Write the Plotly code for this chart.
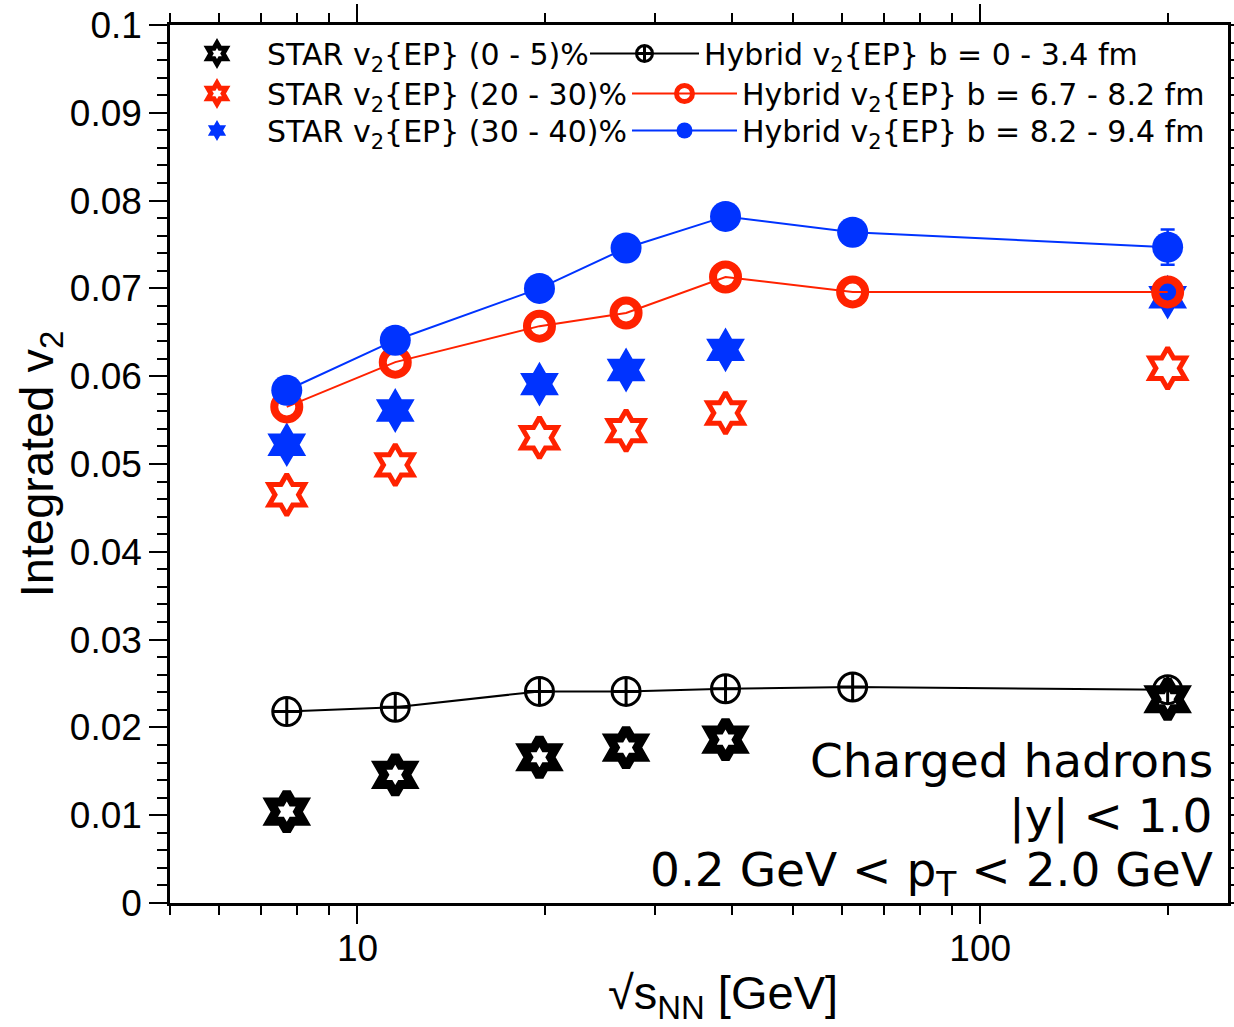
import math
import plotly.graph_objects as go

# Collision energies (GeV)
energy_star = [7.7, 11.5, 19.6, 27, 39, 200]
energy_hybrid = [7.7, 11.5, 19.6, 27, 39, 62.4, 200]

# STAR measurements of integrated v2{EP}
star_0_5 = [0.0104, 0.0146, 0.0166, 0.0177, 0.0186, 0.0232]
star_20_30 = [0.0465, 0.0499, 0.0530, 0.0538, 0.0558, 0.0609]
star_30_40 = [0.0522, 0.0561, 0.0591, 0.0607, 0.0630, 0.0690]

# Hybrid model results
hybrid_b0 = [0.0218, 0.0223, 0.0241, 0.0241, 0.0244, 0.0246, 0.0243]
hybrid_b67 = [0.0565, 0.0616, 0.0657, 0.0672, 0.0713, 0.0696, 0.0696]
hybrid_b82 = [0.0584, 0.0641, 0.0700, 0.0746, 0.0782, 0.0764, 0.0747]
hybrid_b82_err = [0, 0, 0, 0, 0, 0, 0.0020]

x_major = [10, 100]
x_minor = [5, 6, 7, 8, 9, 20, 30, 40, 50, 60, 70, 80, 90, 200]

RED = "#ff2200"
BLUE = "#0033ff"
LEG_FONT = dict(family="DejaVu Sans", size=30, color="black")

# plot-area geometry in pixels (used to place paper-referenced items)
L, R, T, B = 170, 1228, 25, 903
PW, PH = R - L, B - T


def px_x(p):
    return (p - L) / PW


def px_y(p):
    return (B - p) / PH


fig = go.Figure()

fig.add_trace(go.Scatter(
    x=energy_star, y=star_0_5, mode="markers", name="STAR v<sub>2</sub>{EP} (0 - 5)%",
    marker=dict(symbol="hexagram-open", size=29, color="black", line=dict(width=9, color="black")),
    legend="legend"))
fig.add_trace(go.Scatter(
    x=energy_star, y=star_20_30, mode="markers", name="STAR v<sub>2</sub>{EP} (20 - 30)%",
    marker=dict(symbol="hexagram-open", size=31, color=RED, line=dict(width=5, color=RED)),
    legend="legend2"))
fig.add_trace(go.Scatter(
    x=energy_star, y=star_30_40, mode="markers", name="STAR v<sub>2</sub>{EP} (30 - 40)%",
    marker=dict(symbol="hexagram", size=34, color=BLUE, line=dict(width=0)),
    legend="legend3"))

fig.add_trace(go.Scatter(
    x=energy_hybrid, y=hybrid_b0, mode="lines+markers", name="Hybrid v<sub>2</sub>{EP} b = 0 - 3.4 fm",
    line=dict(color="black", width=2),
    marker=dict(symbol="circle-cross-open", size=28, color="black", line=dict(width=3, color="black")),
    legend="legend4"))
fig.add_trace(go.Scatter(
    x=energy_hybrid, y=hybrid_b67, mode="lines+markers", name="Hybrid v<sub>2</sub>{EP} b = 6.7 - 8.2 fm",
    line=dict(color=RED, width=2),
    marker=dict(symbol="circle-open", size=25, color=RED, line=dict(width=8, color=RED)),
    legend="legend5"))
fig.add_trace(go.Scatter(
    x=energy_hybrid, y=hybrid_b82, mode="lines+markers", name="Hybrid v<sub>2</sub>{EP} b = 8.2 - 9.4 fm",
    line=dict(color=BLUE, width=2),
    marker=dict(symbol="circle", size=31, color=BLUE, line=dict(width=0)),
    error_y=dict(type="data", array=hybrid_b82_err, color=BLUE, thickness=2.5, width=7),
    legend="legend6"))

tick_font = dict(family="Liberation Sans, Arial", size=37, color="black")
title_font = dict(family="Liberation Sans, Arial", size=47, color="black")

legend_common = dict(xanchor="left", yanchor="top", bgcolor="rgba(0,0,0,0)",
                     font=LEG_FONT, tracegroupgap=0)

# one legend box per row: (left px, top px, item width)
row_tops = [27.5, 67.5, 104.5]
legend_boxes = {
    "legend": (167, row_tops[0], 90),
    "legend2": (167, row_tops[1], 90),
    "legend3": (167, row_tops[2], 90),
    "legend4": (585, row_tops[0], 109),
    "legend5": (627, row_tops[1], 105),
    "legend6": (627, row_tops[2], 105),
}
legend_layout = {
    key: dict(x=px_x(lx), y=px_y(ly), itemwidth=w, **legend_common)
    for key, (lx, ly, w) in legend_boxes.items()
}

fig.update_layout(
    width=1234, height=1027,
    margin=dict(l=L, r=1234 - R, t=T, b=1027 - B, autoexpand=False),
    paper_bgcolor="white", plot_bgcolor="white",
    showlegend=True,
    **legend_layout,
    xaxis=dict(
        type="log", range=[math.log10(5), math.log10(250)], automargin=False,
        tickmode="array", tickvals=x_major, ticktext=[str(v) for v in x_major],
        ticks="outside", ticklen=18, tickwidth=2, tickcolor="black",
        ticklabelstandoff=-7,
        minor=dict(tickmode="array", tickvals=x_minor, ticks="outside", ticklen=9,
                   tickwidth=2, tickcolor="black", showgrid=False),
        showline=True, linewidth=2.5, linecolor="black", mirror="allticks",
        showgrid=False, zeroline=False, tickfont=tick_font,
    ),
    yaxis=dict(
        range=[0, 0.1], dtick=0.01, tick0=0, automargin=False,
        ticks="outside", ticklen=18, tickwidth=2, tickcolor="black",
        minor=dict(dtick=0.002, ticks="outside", ticklen=10, tickwidth=2,
                   tickcolor="black", showgrid=False),
        showline=True, linewidth=2.5, linecolor="black", mirror="allticks",
        showgrid=False, zeroline=False, tickfont=tick_font,
        title=dict(text="Integrated v<sub>2</sub>", font=title_font, standoff=2),
    ),
)

# x-axis title
fig.add_annotation(
    text="√s<sub>NN</sub> [GeV]", xref="paper", yref="paper", showarrow=False,
    x=px_x(723), y=px_y(996), xanchor="center", yanchor="middle", font=title_font)

ann_font = dict(family="DejaVu Sans", size=47, color="black")
for text, ypx in [("Charged hadrons", 760), ("|y| < 1.0", 816), ("0.2 GeV < p<sub>T</sub> < 2.0 GeV", 873)]:
    fig.add_annotation(
        text=text, xref="paper", yref="paper", showarrow=False,
        x=px_x(1215), y=px_y(ypx), xanchor="right", yanchor="middle",
        font=ann_font)

fig.write_html("out.html")
